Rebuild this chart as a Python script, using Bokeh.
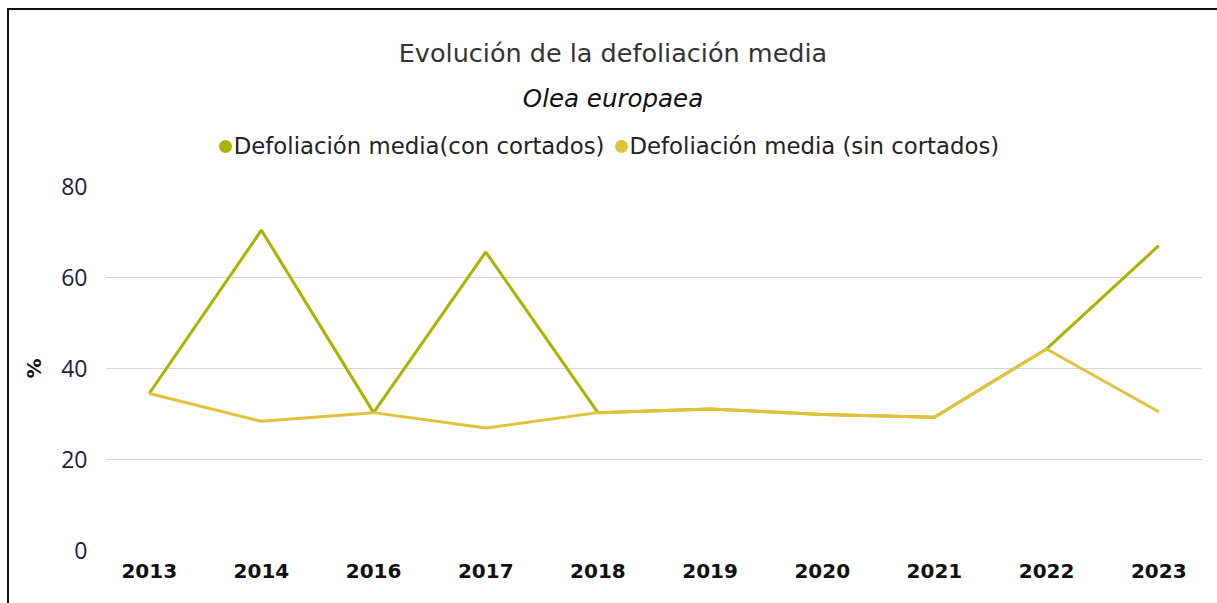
from bokeh.plotting import figure
from bokeh.models import ColumnDataSource, FixedTicker, Div
from bokeh.layouts import column
from bokeh.embed import file_html
from bokeh.resources import INLINE

years = ["2013", "2014", "2016", "2017", "2018", "2019", "2020", "2021", "2022", "2023"]
con_cortados = [34.5, 70.4, 30.3, 65.6, 30.3, 31.1, 29.9, 29.3, 44.3, 67.0]
sin_cortados = [34.5, 28.4, 30.3, 26.9, 30.3, 31.1, 29.9, 29.3, 44.3, 30.5]
y_ticks = [0, 20, 40, 60, 80]

title_text = "Evolución de la defoliación media"
subtitle_text = "Olea europaea"
series_names = ["Defoliación media(con cortados)", "Defoliación media (sin cortados)"]
colors = ["#a9b300", "#e2c23a"]

W = 1208
HEADER_H = 160

def bullet(color):
    return ('<span style="display:inline-block;width:13px;height:13px;border-radius:50%;'
            f'background:{color};margin-right:2px;vertical-align:1px;"></span>')

header_html = f"""
<div style="position:relative;width:{W}px;height:{HEADER_H}px;">
  <div style="position:absolute;left:0;top:28px;width:{W}px;text-align:center;line-height:30px;
              font-family:'DejaVu Sans';font-size:25.5px;color:#333333;">{title_text}</div>
  <div style="position:absolute;left:0;top:74px;width:{W}px;text-align:center;line-height:30px;
              font-family:'DejaVu Sans';font-size:24.5px;font-style:italic;color:#111111;">{subtitle_text}</div>
  <div style="position:absolute;left:-4px;top:121px;width:{W}px;text-align:center;line-height:30px;
              font-family:'DejaVu Sans';font-size:22.8px;color:#222222;white-space:nowrap;">
    {bullet(colors[0])}{series_names[0]}<span style="display:inline-block;width:10px;"></span>{bullet(colors[1])}{series_names[1]}
  </div>
</div>
"""
header = Div(text=header_html, width=W, height=HEADER_H,
             styles={"margin": "0", "padding": "0"})

idx = list(range(len(years)))
src = ColumnDataSource(dict(x=idx, con=con_cortados, sin=sin_cortados))

p = figure(width=W, height=603 - 10 - HEADER_H, output_backend="svg", toolbar_location=None,
           x_range=(-0.39, len(years) - 1 + 0.39), y_range=(0, 80),
           min_border_left=96, min_border_right=15, min_border_top=16, min_border_bottom=53)
p.outline_line_color = None
p.background_fill_color = "white"
p.border_fill_color = "white"

p.line("x", "con", source=src, line_color=colors[0], line_width=3)
p.line("x", "sin", source=src, line_color=colors[1], line_width=3)

p.xaxis.ticker = FixedTicker(ticks=idx)
p.xaxis.major_label_overrides = {i: y for i, y in enumerate(years)}
p.xaxis.major_label_text_font = "DejaVu Sans"
p.xaxis.major_label_text_font_style = "bold"
p.xaxis.major_label_text_font_size = "20px"
p.xaxis.major_label_text_color = "#111111"
p.xaxis.major_label_standoff = 7
p.xaxis.axis_line_color = None
p.xaxis.major_tick_line_color = None
p.xaxis.minor_tick_line_color = None

p.yaxis.ticker = FixedTicker(ticks=y_ticks)
p.yaxis.major_label_text_font = "Open Sans"
p.yaxis.major_label_text_font_size = "23px"
p.yaxis.major_label_text_color = "#1e1e38"
p.yaxis.major_label_standoff = 12
p.yaxis.axis_line_color = None
p.yaxis.major_tick_line_color = None
p.yaxis.minor_tick_line_color = None
p.yaxis.axis_label = "%"
p.yaxis.axis_label_text_font = "DejaVu Sans"
p.yaxis.axis_label_text_font_style = "bold"
p.yaxis.axis_label_text_font_size = "20px"
p.yaxis.axis_label_text_color = "#111111"
p.yaxis.axis_label_standoff = 12

p.xgrid.grid_line_color = None
p.ygrid.grid_line_color = "#d6d6d6"
p.ygrid.grid_line_width = 1

layout = column(header, p, spacing=0,
                styles={"margin-left": "7px", "margin-top": "8px",
                        "border-left": "2px solid #111111", "border-top": "2px solid #111111",
                        "background": "white"})

open("out.html", "w").write(file_html(layout, INLINE))
